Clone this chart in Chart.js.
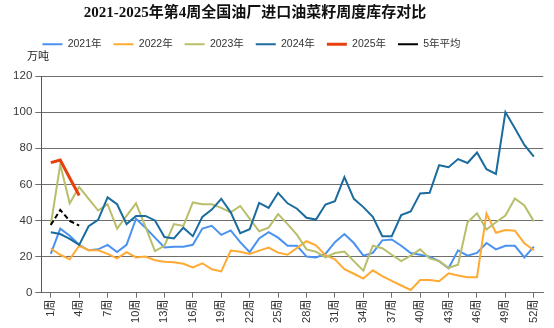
<!DOCTYPE html>
<html>
<head>
<meta charset="utf-8">
<script src="https://cdn.jsdelivr.net/npm/chart.js@4.4.1/dist/chart.umd.min.js"></script>
<style>
    html, body { margin: 0; padding: 0; background: #fff; }
</style>
</head>
<body>
<canvas id="stockChart" width="554" height="328"></canvas>
<script>
// weekly imported rapeseed stocks at oil mills, 万吨
const weeks = [1, 2, 3, 4, 5, 6, 7, 8, 9, 10, 11, 12, 13, 14, 15, 16, 17, 18, 19, 20, 21, 22, 23, 24, 25, 26,
    27, 28, 29, 30, 31, 32, 33, 34, 35, 36, 37, 38, 39, 40, 41, 42, 43, 44, 45, 46, 47, 48, 49, 50, 51, 52];
const tickWeeks = [1, 4, 7, 10, 13, 16, 19, 22, 25, 28, 31, 34, 37, 40, 43, 46, 49, 52];
const yTicks = [0, 20, 40, 60, 80, 100, 120];

const y2021 = [21.5, 35.5, 31.5, 26.5, 23.5, 24, 26.5, 22.5, 26.5, 41, 36, 30.5, 25, 25.5, 25.5, 26.5, 35.5, 37, 32, 34.5,
    28, 22.5, 30, 33.5, 30.5, 26, 26, 20, 19.5, 21.5, 28, 32.5, 27.5, 20.5, 22, 29, 29.5, 26, 22, 21,
    20, 17.5, 13.5, 23.5, 20.5, 22, 27.5, 24, 26, 26, 19.5, 25.5];
const y2022 = [24.5, 21, 18.5, 26, 23.5, 23.5, 21.5, 19, 22.5, 19.5, 20, 18, 17.2, 16.8, 16, 14, 16.3, 13, 11.8, 23.3,
    22.7, 21.4, 23.3, 25, 22.2, 21, 24.8, 28.5, 26.2, 20.8, 18.5, 13, 10.5, 7.8, 12.4, 9.2, 6.5, 4, 1.5, 7,
    7, 6.3, 10.7, 9.5, 8.6, 8.6, 43.8, 33.2, 34.7, 34.3, 27.4, 23.5];
const y2023 = [37.5, 71, 49.5, 58.5, 52, 45.5, 49, 35.5, 42.5, 49.5, 36.5, 23, 26, 38, 37, 50, 49, 49, 47, 44.5,
    48, 41, 34, 36, 43.5, 38, 32, 24, 22.7, 19.6, 22, 22.8, 17.5, 12.2, 26, 24.6, 21, 17.5, 20.5, 24,
    19, 17.5, 13.8, 15.5, 39, 44, 35, 39, 42.7, 52.2, 48.3, 39.5];
const y2024 = [33.5, 32.5, 29.8, 26.5, 36.8, 40.3, 52.8, 49, 38, 42.5, 42.5, 40, 30.8, 30, 36, 31.3, 42, 46, 52, 44.5,
    33, 35.2, 49.7, 47, 55.3, 49.5, 46.5, 41.5, 40.5, 48.8, 50.7, 64, 52, 47.4, 42, 31.3, 31.3, 43, 45, 55,
    55.3, 70.6, 69.5, 74, 71.8, 77.6, 68.4, 65.8, 100, 91, 81.8, 75.3];
const y2025 = [72, 73.5, 63.5, 53.8];
const avg5 = [37.5, 45.8, 39.8, 37.2];

const fontFamily = "'Liberation Sans', 'Noto Sans CJK SC', sans-serif";
const gridColor = '#6e6e6e';

// nudge title / legend / unit label to where the original had them
const placeBlocks = {
    id: 'placeBlocks',
    afterLayout(chart) {
        const t = chart.titleBlock;
        t.left = 0; t.right = 510;
        const lg = chart.legend;
        lg.left = 0; lg.right = 503;
        lg.top += 4; lg.bottom += 4;
        const unit = chart.boxes.find(b => b.options && b.options.text === '万吨');
        if (unit) { unit.left = 27; unit.top -= 5; unit.bottom -= 5; }
    }
};

function line(label, data, color, width, order, dash) {
    return {
        label, data,
        borderColor: color,
        backgroundColor: color,
        borderWidth: width,
        borderDash: dash || [],
        pointRadius: 0,
        pointHoverRadius: 0,
        tension: 0,
        fill: false,
        order
    };
}

new Chart(document.getElementById('stockChart'), {
    type: 'line',
    data: {
        labels: weeks,
        datasets: [
            line('2021年', y2021, '#4A92F0', 2, 5),
            line('2022年', y2022, '#FFAA33', 2, 4),
            line('2023年', y2023, '#B8BE6A', 2, 3),
            line('2024年', y2024, '#1B6C9E', 2, 2),
            line('2025年', y2025, '#E8400C', 3, 0),
            line('5年平均', avg5, '#000000', 2, 1, [5, 3])
        ]
    },
    options: {
        responsive: false,
        animation: false,
        devicePixelRatio: 1,
        layout: { padding: { left: 0, right: 10.7, top: 0, bottom: 0 } },
        plugins: {
            title: {
                display: true,
                text: '2021-2025年第4周全国油厂进口油菜籽周度库存对比',
                color: '#111',
                font: { family: "'Liberation Serif', 'Noto Sans CJK SC', serif", size: 15, weight: 'bold' },
                padding: { top: 4, bottom: 1 }
            },
            subtitle: {
                display: true,
                text: '万吨',
                align: 'start',
                weight: 500,
                color: '#222',
                font: { family: fontFamily, size: 11 },
                padding: { top: 0, bottom: 7.3 }
            },
            legend: {
                position: 'top',
                labels: {
                    usePointStyle: true,
                    pointStyle: 'line',
                    pointStyleWidth: 20,
                    padding: 12,
                    color: '#333',
                    font: { family: fontFamily, size: 10.5 },
                    sort: (a, b) => a.datasetIndex - b.datasetIndex
                }
            },
            tooltip: { enabled: false }
        },
        scales: {
            x: {
                type: 'linear',
                min: 0,
                max: 53,
                afterBuildTicks: s => { s.ticks = tickWeeks.map(v => ({ value: v })); },
                afterFit: s => { s.height = 35.3; },
                ticks: {
                    autoSkip: false,
                    minRotation: 90,
                    maxRotation: 90,
                    padding: 2,
                    color: '#333',
                    font: { family: fontFamily, size: 11 },
                    callback: v => v + '周'
                },
                grid: { drawOnChartArea: false, drawTicks: true, tickLength: 5, color: gridColor },
                border: { display: true, color: gridColor }
            },
            y: {
                min: 0,
                max: 120,
                afterBuildTicks: s => { s.ticks = yTicks.map(v => ({ value: v })); },
                afterFit: s => { s.width = 41.3; },
                ticks: {
                    padding: 3,
                    color: '#3a3a3a',
                    font: { family: fontFamily, size: 11.5 }
                },
                grid: { color: gridColor, lineWidth: 1, tickLength: 6 },
                border: { display: true, color: '#555' }
            }
        }
    },
    plugins: [placeBlocks]
});
</script>
</body>
</html>
